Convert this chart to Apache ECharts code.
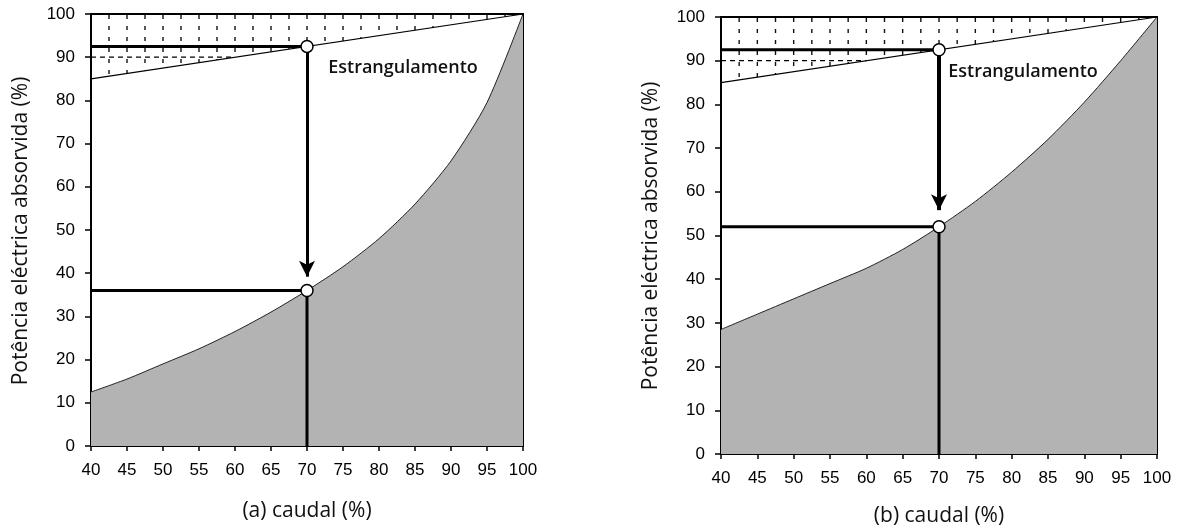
<!DOCTYPE html>
<html>
<head>
<meta charset="utf-8">
<script src="https://cdn.jsdelivr.net/npm/echarts@6/dist/echarts.min.js"></script>
<style>
html,body{margin:0;padding:0;background:#fff;}
#chart{width:1177px;height:529px;}
</style>
</head>
<body>
<div id="chart"></div>
<script>
// ---- data ----
var flow = [40, 45, 50, 55, 60, 65, 70, 75, 80, 85, 90, 95, 100];
var speedA = [12.5, 15.5, 19, 22.5, 26.5, 31, 36, 41.5, 48, 56, 66, 79.5, 100];
var speedB = [28.5, 32, 35.5, 39, 42.5, 46.8, 52, 57.8, 64.5, 72, 80.5, 90, 100];
var throttleX = [40, 100];
var throttleY = [85, 100];
var opFlow = 70;
var opThrottle = 92.5;
var opSpeedA = 36;
var opSpeedB = 52;
var refLevel = 90;
var refLevelEnd = 60;
var hatchX = [42.5, 45, 47.5, 50, 52.5, 55, 57.5, 60, 62.5, 65, 67.5, 70, 72.5, 75, 77.5, 80, 82.5, 85, 87.5, 90, 92.5, 95, 97.5];
var xTicks = {min: 40, max: 100, step: 5};
var yTicks = {min: 0, max: 100, step: 10};

function pairs(xs, ys) { return xs.map(function (x, i) { return [x, ys[i]]; }); }
function throttleAt(x) {
  return throttleY[0] + (x - throttleX[0]) * (throttleY[1] - throttleY[0]) / (throttleX[1] - throttleX[0]);
}

var tickFont = 'Liberation Sans';
var textFont = '"Open Sans", "DejaVu Sans", sans-serif';

function xAxisCfg(gi) {
  return {
    type: 'value', gridIndex: gi, min: xTicks.min, max: xTicks.max, interval: xTicks.step,
    axisLine: {show: true, onZero: false, lineStyle: {color: '#000', width: 2}},
    axisTick: {show: true, length: 5, lineStyle: {color: '#000', width: 1.5}},
    axisLabel: {color: '#000', fontFamily: tickFont, fontSize: 17, margin: 16},
    splitLine: {show: false}
  };
}
function yAxisCfg(gi) {
  return {
    type: 'value', gridIndex: gi, min: yTicks.min, max: yTicks.max, interval: yTicks.step,
    axisLine: {show: true, onZero: false, lineStyle: {color: '#000', width: 2}},
    axisTick: {show: true, length: 6, lineStyle: {color: '#000', width: 1.5}},
    axisLabel: {color: '#000', fontFamily: tickFont, fontSize: 17, margin: 16},
    splitLine: {show: false}
  };
}

function panelSeries(gi, speed, opSpeed, arrowTip, shaftWidth) {
  var base = {xAxisIndex: gi, yAxisIndex: gi, animation: false, silent: true};
  function seg(data, width, extra) {
    return Object.assign({}, base, {
      type: 'line', data: data, symbol: 'none', z: 5,
      lineStyle: Object.assign({color: '#000', width: width}, extra || {})
    });
  }
  return [
    Object.assign({}, base, {
      type: 'line', data: pairs(flow, speed), symbol: 'none', smooth: 0.25, z: 1,
      lineStyle: {color: '#222', width: 1},
      areaStyle: {color: '#b3b3b3', opacity: 1, origin: 'start'}
    }),
    Object.assign({}, base, {
      type: 'custom', z: 2,
      data: hatchX.map(function (x) { return [x, yTicks.max]; }),
      encode: {x: 0, y: 1},
      renderItem: function (params, api) {
        var x = api.value(0);
        var p1 = api.coord([x, yTicks.max]);
        var p2 = api.coord([x, throttleAt(x)]);
        return {
          type: 'line',
          shape: {x1: p1[0], y1: p1[1] + 1, x2: p2[0], y2: p2[1]},
          style: {stroke: '#111', lineWidth: 1.4, lineDash: [4, 7]}
        };
      }
    }),
    seg(pairs(throttleX, throttleY), 1.2),
    seg([[xTicks.min, refLevel], [refLevelEnd, refLevel]], 1.2, {type: [5, 4]}),
    seg([[xTicks.min, opThrottle], [opFlow, opThrottle]], 3),
    seg([[xTicks.min, opSpeed], [opFlow, opSpeed]], 3),
    seg([[opFlow, opSpeed], [opFlow, yTicks.min]], 3),
    Object.assign({}, base, {
      type: 'line', data: [], z: 6,
      markLine: {
        silent: true, animation: false,
        symbol: ['none', 'arrow'], symbolSize: [12, 16],
        label: {show: false},
        lineStyle: {color: '#000', width: shaftWidth, type: 'solid'},
        data: [[{coord: [opFlow, opThrottle]}, {coord: [opFlow, arrowTip]}]]
      }
    }),
    Object.assign({}, base, {
      type: 'scatter', z: 10,
      data: [[opFlow, opThrottle], [opFlow, opSpeed]],
      symbol: 'circle', symbolSize: 12,
      itemStyle: {color: '#fff', borderColor: '#000', borderWidth: 1.5, opacity: 1}
    })
  ];
}

var chart = echarts.init(document.getElementById('chart'), null, {renderer: 'canvas'});

function txt(x, y, s, opt, rot) {
  return {
    type: 'text', x: x, y: y, silent: true, rotation: rot || 0,
    style: Object.assign({
      text: s, fill: '#111', font: '18px ' + textFont,
      textAlign: 'center', textVerticalAlign: 'middle'
    }, opt || {})
  };
}

var option = {
  backgroundColor: '#fff',
  animation: false,
  grid: [
    {left: 91, top: 14, width: 432, height: 432, show: true, borderColor: '#000', borderWidth: 2, backgroundColor: 'transparent', containLabel: false},
    {left: 721, top: 17, width: 436, height: 437, show: true, borderColor: '#000', borderWidth: 2, backgroundColor: 'transparent', containLabel: false}
  ],
  xAxis: [xAxisCfg(0), xAxisCfg(1)],
  yAxis: [yAxisCfg(0), yAxisCfg(1)],
  series: [].concat(
    panelSeries(0, speedA, opSpeedA, 39.2, 3),
    panelSeries(1, speedB, opSpeedB, 55.8, 4)
  ),
  graphic: [
    txt(21, 231, 'Potência eléctrica absorvida (%)', {font: '21px ' + textFont}, Math.PI / 2),
    txt(651, 236, 'Potência eléctrica absorvida (%)', {font: '21px ' + textFont}, Math.PI / 2),
    txt(307, 511, '(a) caudal (%)', {font: '21px ' + textFont}),
    txt(939, 516, '(b) caudal (%)', {font: '21px ' + textFont}),
    txt(403, 68, 'Estrangulamento', {font: '600 18px ' + textFont}),
    txt(1023, 72, 'Estrangulamento', {font: '600 18px ' + textFont}),
    txt(418, 325, 'Controlo\nde\nvelocidade', {font: '600 18px ' + textFont, lineHeight: 19}),
    txt(1052, 328, 'Controlo\nde\nvelocidade', {font: '600 18px ' + textFont, lineHeight: 19})
  ]
};
chart.setOption(option);
</script>
</body>
</html>
